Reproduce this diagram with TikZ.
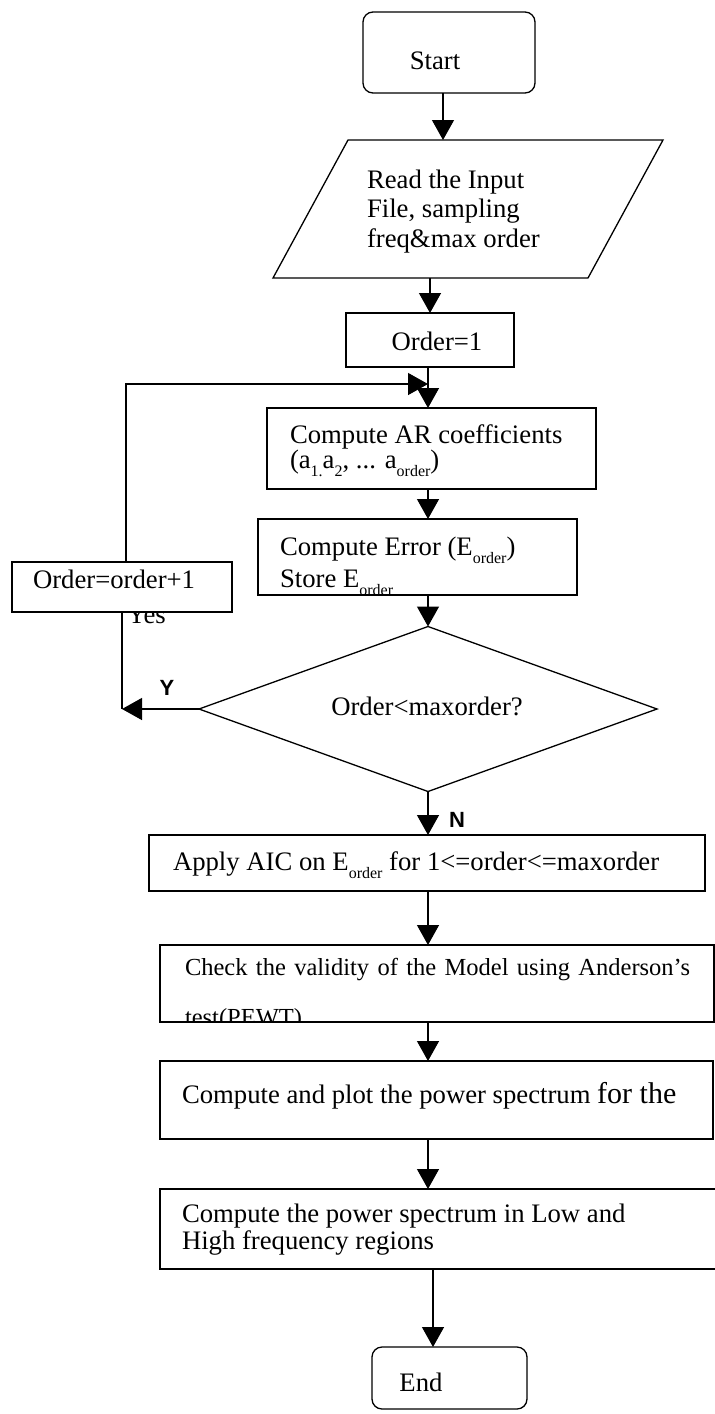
\documentclass[tikz,border=0pt]{standalone}
\usepackage{fontspec}
\setmainfont{Liberation Serif}
\setsansfont{Liberation Sans}
\usetikzlibrary{arrows.meta,shapes.geometric,calc}
% lowered small text for the subscripts
\newcommand\lowtext[1]{\raisebox{-0.3em}{\fontsize{16pt}{16pt}\selectfont #1}}
\begin{document}
\begin{tikzpicture}[x=1pt,y=-1pt,
  every node/.style={font=\fontsize{26.7pt}{29.5pt}\selectfont, inner sep=0pt, outer sep=0pt},
  flow/.style={line width=1.3pt, -{Triangle[length=20pt,width=22pt]}},
  link/.style={line width=1.3pt},
  box/.style={draw, line width=1.3pt, fill=white, rectangle, anchor=north west},
  term/.style={box, rounded corners=10pt},
  txt/.style={anchor=base west},
  ctxt/.style={anchor=base},
  yn/.style={font=\fontsize{22pt}{22pt}\selectfont\sffamily\bfseries, anchor=center}]

\useasboundingbox (0,0) rectangle (715,1414);
\clip (0,0) rectangle (715,1414);

% column positions of the vertical connectors
\coordinate (c1) at (443,0);
\coordinate (c2) at (430,0);
\coordinate (cm) at (428,0);
\coordinate (ce) at (433,0);

% terminals and process boxes
\node[term, minimum width=172pt, minimum height=81pt] (start) at (363,12) {};
\node[ctxt] (start-t) at (435,69) {Start};

\node[anchor=north west, minimum width=390pt, minimum height=138pt] (read) at (273,140) {};
\draw[link] ($(read.north west)+(75,0)$) -- (read.north east)
  -- ($(read.south east)+(-75,0)$) -- (read.south west) -- cycle;
\node[txt] (read-t1) at (367,188) {Read the Input};
\node[txt] (read-t2) at (367,217) {File, sampling};
\node[txt] (read-t3) at (367,247) {freq\&max order};

\node[box, minimum width=168pt, minimum height=54pt] (init) at (346,313) {};
\node[ctxt] (init-t) at (437,350) {Order=1};

\node[box, minimum width=329pt, minimum height=81pt] (ar) at (267,408) {};
\node[txt] (ar-t1) at (290,443) {Compute AR coefficients};
\node[txt] (ar-t2) at (290,468) {(a\lowtext{1.}a\lowtext{2}, ... a\lowtext{order})};

\node[box, minimum width=319pt, minimum height=76pt] (err) at (258,519) {};
\begin{scope}
  \clip (err.north west) rectangle (err.south east);
  \node[txt] (err-t1) at (280,555) {Compute Error (E\lowtext{order})};
  \node[txt] (err-t2) at (280,587) {Store E\lowtext{order}};
\end{scope}

\node[draw, diamond, line width=1.3pt, minimum width=458pt, minimum height=165pt] (dec) at (428,709) {};
\node[ctxt] (dec-t) at (427,715) {Order<maxorder?};

% increment box; the Yes label sits partly under it
\node[txt] (yes) at (127,623) {Yes};
\node[box, minimum width=220pt, minimum height=50pt] (inc) at (12,562) {};
\node[txt] (inc-t) at (33,588) {Order=order+1};

\node[box, minimum width=556pt, minimum height=56pt] (aic) at (149,835) {};
\node[txt] (aic-t) at (173,870) {Apply AIC on E\lowtext{order} for 1<=order<=maxorder};

\node[box, minimum width=554pt, minimum height=77pt] (chk) at (160,945) {};
\begin{scope}
  \clip (chk.north west) rectangle (chk.south east);
  \node[txt, font=\fontsize{24.5pt}{29pt}\selectfont] (chk-t1) at (185,975)
    {\makebox[505pt][s]{Check the validity of the Model using Anderson’s}};
  \node[txt, font=\fontsize{24.5pt}{29pt}\selectfont] (chk-t2) at (185,1025) {test(PEWT)};
\end{scope}

\node[box, minimum width=553pt, minimum height=78pt] (plot) at (160,1061) {};
\node[txt] (plot-t) at (182,1103) {Compute and plot the power spectrum {\fontsize{30pt}{30pt}\selectfont for the}};

\node[box, minimum width=570pt, minimum height=80pt] (band) at (160,1189) {};
\node[txt] (band-t1) at (182,1222) {Compute the power spectrum in Low and};
\node[txt] (band-t2) at (182,1249) {High frequency regions};

\node[term, minimum width=155pt, minimum height=62pt] (end) at (372,1347) {};
\node[ctxt] (end-t) at (421,1391) {End};

% main flow
\draw[flow] (start.south -| c1) -- (read.north -| c1);
\draw[flow] (read.south -| c2) -- (init.north -| c2);
\draw[flow] (init.south -| cm) -- (ar.north -| cm);
\draw[flow] (ar.south -| cm) -- (err.north -| cm);
\draw[flow] (err.south -| cm) -- (dec.north);
\draw[flow] (dec.south) -- (aic.north -| cm);
\draw[flow] (aic.south -| cm) -- (chk.north -| cm);
\draw[flow] (chk.south -| cm) -- (plot.north -| cm);
\draw[flow] (plot.south -| cm) -- (band.north -| cm);
\draw[flow] (band.south -| ce) -- (end.north -| ce);

% loop back through the increment box
\coordinate (yturn) at (122,709);
\coordinate (ltop) at (126,384);
\draw[flow] (dec.west) -- (yturn);
\draw[link] (inc.south -| yturn) -- (yturn);
\draw[flow] (inc.north -| ltop) -- (ltop) -- (ltop -| cm);

% branch labels
\node[yn] (ylab) at (167,688) {Y};
\node[yn] (nlab) at (457,820) {N};
\end{tikzpicture}
\end{document}
